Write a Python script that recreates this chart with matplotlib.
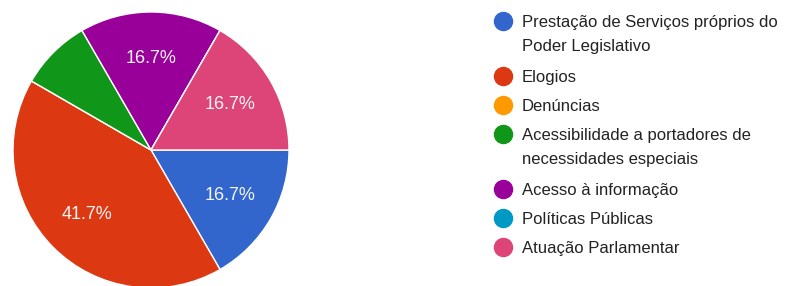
import matplotlib.pyplot as plt

categorias = [
    "Prestação de Serviços próprios do\nPoder Legislativo",
    "Elogios",
    "Denúncias",
    "Acessibilidade a portadores de\nnecessidades especiais",
    "Acesso à informação",
    "Políticas Públicas",
    "Atuação Parlamentar",
]
respostas = [2, 5, 0, 1, 2, 0, 2]
cores = ["#3366cc", "#dc3912", "#ff9900", "#109618", "#990099", "#0099c6", "#dd4477"]

plt.rcParams['font.family'] = ['Liberation Sans', 'DejaVu Sans']

W, H = 811, 286
fig = plt.figure(figsize=(W / 100, H / 100), dpi=100)

# pie: center (151, 150) px from top-left, radius 138 px
cx, cy, r = 151, 150, 138
ax = fig.add_axes([(cx - r) / W, (H - cy - r) / H, 2 * r / W, 2 * r / H])


def pct(p):
    # small slices get no label, like the original
    return f"{p:.1f}%" if p >= 10 else ""


ax.pie(respostas, colors=cores, startangle=0, counterclock=False,
       autopct=pct, pctdistance=0.66, radius=1,
       wedgeprops=dict(edgecolor='white', linewidth=1),
       textprops=dict(color='#f4f4f4', fontsize=13))
ax.set_xlim(-1, 1)
ax.set_ylim(-1, 1)
ax.set_aspect('equal')
ax.axis('off')

# legend, drawn by hand so wrapped labels line up
y = 21
for cat, cor in zip(categorias, cores):
    n = cat.count("\n") + 1
    fig.lines.append(plt.Line2D([503 / W], [1 - y / H], marker='o', markersize=13,
                                color=cor, transform=fig.transFigure))
    fig.text(522 / W, 1 - (y - 6) / H, cat, fontsize=12, color='#222222',
             va='top', ha='left', linespacing=1.75)
    y += 29 + (n - 1) * 26

fig.savefig('out.png', dpi=100)
